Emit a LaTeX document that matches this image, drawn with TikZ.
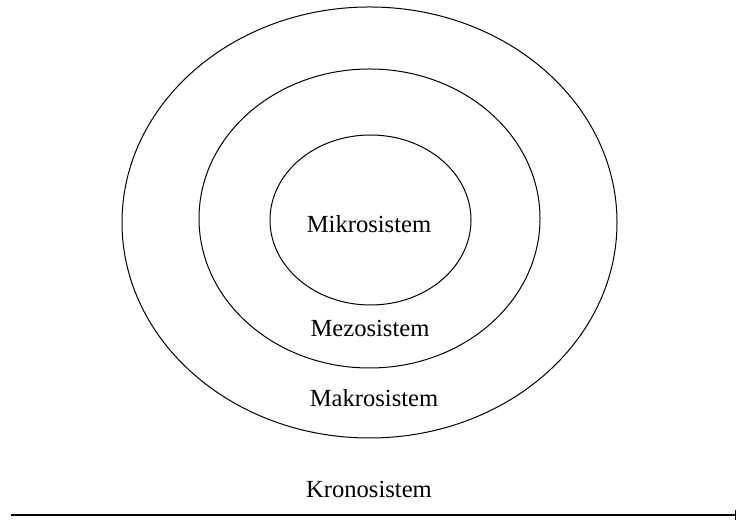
\documentclass[tikz,border=0pt]{standalone}
\usepackage{fontspec}
\setmainfont{Liberation Serif}
\usetikzlibrary{shapes.geometric,arrows.meta}

\begin{document}
\begin{tikzpicture}[x=0.5pt,y=0.5pt]
  \tikzset{ring/.style={draw,ellipse,line width=0.5pt,inner sep=0pt},
           lbl/.style={font=\fontsize{12.3}{14}\selectfont,inner sep=0pt}}
  \useasboundingbox (0,0) rectangle (737,523);
  % rings, outer to inner (sizes in pt = half the pixels)
  \node (makro) at (369.5,300.5) [ring,minimum width=247.5pt,minimum height=215.5pt] {};
  \node (mezo) at (369.5,304.5) [ring,minimum width=170.5pt,minimum height=149.5pt] {};
  \node (mikro) at (370.5,303) [ring,minimum width=100.5pt,minimum height=85pt] {};
  \node (tmikro) at (369,299) [lbl] {Mikrosistem};
  \node (tmezo) at (370,195) [lbl] {Mezosistem};
  \node (tmakro) at (374,125) [lbl] {Makrosistem};
  \node (tkrono) at (369,34) [lbl] {Kronosistem};
  % time line
  \coordinate (t0) at (11,8);
  \coordinate (t1) at (736,8);
  \draw[line width=0.6pt,-{Bar[width=5pt,line width=0.5pt]}] (t0) -- (t1);
\end{tikzpicture}
\end{document}
